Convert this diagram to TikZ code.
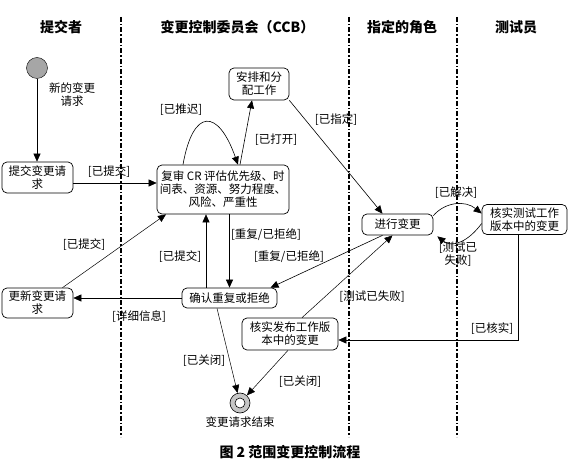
\documentclass[tikz,border=0pt]{standalone}
\usepackage{fontspec}
\setmainfont{Noto Sans CJK SC}
\usetikzlibrary{arrows.meta,patterns}
\begin{document}
\begin{tikzpicture}[x=1pt,y=-1pt,
  font=\fontsize{11.5}{13}\selectfont,
  box/.style={draw, rounded corners=5pt, align=center, inner sep=1pt, line width=0.7pt},
  lbl/.style={inner sep=0pt, align=center},
  arr/.style={line width=0.6pt, -{Triangle[length=8pt,width=7pt]}},
  lane/.style={line width=1.4pt, dash pattern=on 5pt off 2pt on 1.5pt off 2pt},
  title/.style={font=\fontsize{14}{16}\selectfont\bfseries}]
\useasboundingbox (0,0) rectangle (571,465);
\fill[white] (0,0) rectangle (571,465);

% swimlanes
\draw[lane] (121,17) -- (121,437);
\draw[lane] (349,17) -- (349,437);
\draw[lane] (457,17) -- (457,437);

% titles
\node[title] (t1) at (61,27) {提交者};
\node[title] (t2) at (237.5,27) {变更控制委员会（CCB）};
\node[title] (t3) at (402,27) {指定的角色};
\node[title] (t4) at (516,27) {测试员};

% nodes
\node[circle, draw, fill=gray!70, minimum size=21pt, inner sep=0pt] (start) at (37,68) {};
\node[lbl] (startlbl) at (72,95) {新的变更\\请求};
\node[box, minimum width=71pt, minimum height=31pt] (submit) at (37.5,177.5) {提交变更请\\求};
\node[box, minimum width=132pt, minimum height=49pt] (review) at (223,189.5) {复审 CR 评估优先级、时\\间表、资源、努力程度、\\风险、严重性};
\node[box, minimum width=60pt, minimum height=32pt] (assign) at (259,84) {安排和分\\配工作};
\node[box, minimum width=71pt, minimum height=21pt] (make) at (397.5,224.5) {进行变更};
\node[box, minimum width=85pt, minimum height=30pt] (vtest) at (524.5,219.5) {核实测试工作\\版本中的变更};
\node[box, minimum width=95pt, minimum height=20pt] (confirm) at (229.5,298) {确认重复或拒绝};
\node[box, minimum width=71pt, minimum height=30pt] (update) at (37.5,303) {更新变更请\\求};
\node[box, minimum width=96pt, minimum height=32pt] (vrel) at (290,334) {核实发布工作版\\本中的变更};
\node[circle, draw, fill=gray!45, minimum size=20pt, inner sep=0pt, line width=0.6pt] (end) at (240,403) {};
\node[circle, draw, fill=white, minimum size=10pt, inner sep=0pt, line width=0.6pt] (endin) at (240,403) {};
\node[lbl] (endlbl) at (240,422) {变更请求结束};

% connectors
\draw[arr] (start.south) -- (start.south |- submit.north);

\draw[arr] ([yshift=-5.5pt]submit.east) -- ([yshift=-5.5pt]submit.east -| review.west);
\node[lbl] (l1) at (109,172) {[已提交]};

\draw[arr] ([xshift=17pt]review.north) -- ([xshift=-7pt]assign.south);
\node[lbl] (l2) at (276,140) {[已打开]};

\draw[arr] ([xshift=-40pt]review.north) .. controls (193,108) and (218,108) .. ([xshift=15pt]review.north);
\node[lbl] (l3) at (181,110) {[已推迟]};

\draw[arr] (assign.south east) -- ([xshift=-15pt]make.north);
\node[lbl] (l4) at (336,120) {[已指定]};

\draw[arr] ([yshift=-2pt]make.north east) .. controls (445,202) and (465,200) .. ([yshift=6pt]vtest.west);
\node[lbl] (l5) at (456,193) {[已解决]};

\draw[arr] ([yshift=-4pt]vtest.west) .. controls (468,242) and (452,248) .. ([xshift=4pt,yshift=-1pt]make.south east);
\node[lbl] (l6) at (458,254) {[测试已\\失败]};

\draw[arr] (confirm.north |- review.south) -- (confirm.north);
\node[lbl] (l7) at (266,235) {[重复/已拒绝]};

\draw[arr] ([xshift=-23.5pt]confirm.north) -- ([xshift=-23.5pt]confirm.north |- review.south);
\node[lbl] (l8) at (180,257) {[已提交]};

\draw[arr] ([xshift=-15pt]make.south) -- ([xshift=41pt]confirm.north);
\node[lbl] (l9) at (289,257) {[重复/已拒绝]};

\draw[arr] (confirm.west) -- (confirm.west -| update.east);
\node[lbl] (l10) at (139,317) {[详细信息]};

\draw[arr, line width=0.5pt] ([xshift=25pt]update.north) -- ([xshift=-57pt]review.south);
\node[lbl] (l11) at (84,245) {[已提交]};

\draw[arr] ([xshift=-6.5pt]vtest.south) |- ([yshift=-6pt]vrel.east);
\node[lbl] (l12) at (492,329) {[已核实]};

\draw[arr, line width=0.5pt] ([xshift=12pt]vrel.north) -- ([xshift=-5pt]make.south);
\node[lbl] (l13) at (372,297) {[测试已失败]};

\draw[arr, line width=0.5pt] ([xshift=-12.5pt]confirm.south) -- (end);
\node[lbl] (l14) at (204,361) {[已关闭]};

\draw[arr, line width=0.5pt] ([xshift=-2pt]vrel.south) -- (end);
\node[lbl] (l15) at (300,382) {[已关闭]};

% caption
\node[font=\fontsize{14}{16}\selectfont\bfseries] (cap) at (290,452) {图 2 范围变更控制流程};
\end{tikzpicture}
\end{document}
